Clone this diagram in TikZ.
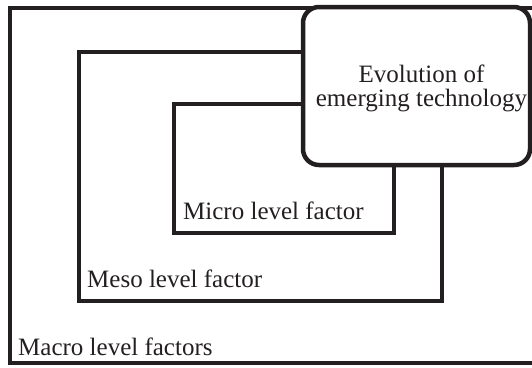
\documentclass[tikz,border=0pt]{standalone}
\usepackage{fontspec}
\setmainfont{Liberation Serif}
\definecolor{ink}{HTML}{231F20}
\begin{document}
\begin{tikzpicture}[x=1bp,y=-1bp,
  frame/.style={draw=ink,line width=4.5bp},
  thinframe/.style={draw=ink,line width=3.6bp},
  lbl/.style={font=\fontsize{25bp}{24bp}\selectfont,text=ink,inner sep=0pt,anchor=base west}]
\useasboundingbox (0,0) rectangle (532,367);
\clip (0,0) rectangle (532,367);
% nested levels of factors
\draw[thinframe] (10,8) rectangle (548,363);
\draw[frame] (79,52) rectangle (442,301);
\draw[frame] (174,104) rectangle (394,233);
% central rounded box drawn over the frames
\draw[frame,fill=white,rounded corners=16bp] (303,7) rectangle (530,165);
\node[font=\fontsize{25bp}{24bp}\selectfont,text=ink,inner sep=0pt,align=center,anchor=center]
  (evo) at (421.5,88) {Evolution of\\emerging technology};
% level labels
\node[lbl] (micro) at (183,219) {Micro level factor};
\node[lbl] (meso) at (87,287) {Meso level factor};
\node[lbl] (macro) at (18,355) {Macro level factors};
\end{tikzpicture}
\end{document}
